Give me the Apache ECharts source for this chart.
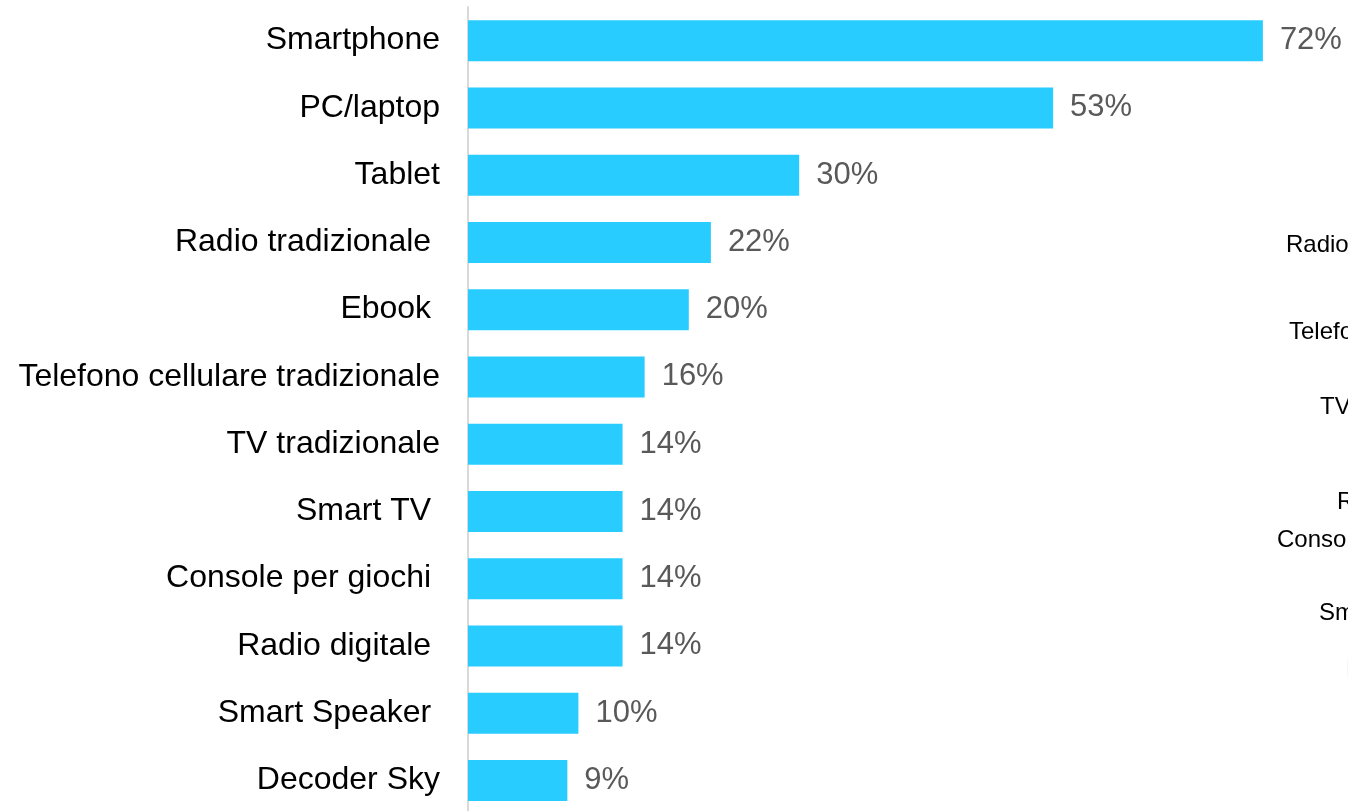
<!DOCTYPE html>
<html>
<head>
<meta charset="utf-8">
<script src="https://cdn.jsdelivr.net/npm/echarts@6/dist/echarts.min.js"></script>
<style>
  html, body { margin: 0; padding: 0; background: #fff; }
  #main { width: 1348px; height: 811px; }
</style>
</head>
<body>
<div id="main"></div>
<script>
// categorie (dall'alto in basso), gli spazi finali sono nell'originale
var categories = [
  'Smartphone',
  'PC/laptop',
  'Tablet',
  'Radio tradizionale ',
  'Ebook ',
  'Telefono cellulare tradizionale',
  'TV tradizionale',
  'Smart TV ',
  'Console per giochi ',
  'Radio digitale ',
  'Smart Speaker ',
  'Decoder Sky'
];
// percentuali
var values = [72, 53, 30, 22, 20, 16, 14, 14, 14, 14, 10, 9];

// etichette di un secondo grafico, tagliate dal bordo destro
var overflowLabels = ['Radio', 'Telefono', 'TV', 'R', 'Console', 'Smart', 'PC'];
var overflowX = [1286, 1289, 1320, 1337, 1277, 1319, 1346];
var overflowY = [244, 331, 406, 501, 539, 612, 669];

var myChart = echarts.init(document.getElementById('main'));

var graphics = [];
overflowLabels.forEach(function (t, i) {
  graphics.push({
    type: 'text',
    left: overflowX[i],
    top: overflowY[i] - 11,
    style: {
      text: t,
      fill: '#000',
      font: '24px "Liberation Sans", Arial, sans-serif'
    }
  });
});

var option = {
  animation: false,
  backgroundColor: '#fff',
  grid: {
    left: 468,
    top: 7,
    width: 1104,
    height: 807,
    containLabel: false,
    outerBoundsMode: 'none'
  },
  xAxis: {
    type: 'value',
    min: 0,
    max: 100,
    show: false
  },
  yAxis: {
    type: 'category',
    inverse: true,
    data: categories,
    axisLine: { show: true, lineStyle: { color: '#d9d9d9', width: 2 } },
    axisTick: { show: false },
    axisLabel: {
      margin: 28,
      color: '#000',
      fontSize: 32,
      fontFamily: '"Liberation Sans", Arial, sans-serif'
    }
  },
  series: [{
    type: 'bar',
    data: values,
    barWidth: 41,
    itemStyle: { color: '#29ccff' },
    label: {
      show: true,
      position: 'right',
      distance: 17,
      formatter: '{c}%',
      color: '#595959',
      fontSize: 31,
      fontFamily: '"Liberation Sans", Arial, sans-serif'
    }
  }],
  graphic: graphics
};

myChart.setOption(option);
</script>
</body>
</html>
